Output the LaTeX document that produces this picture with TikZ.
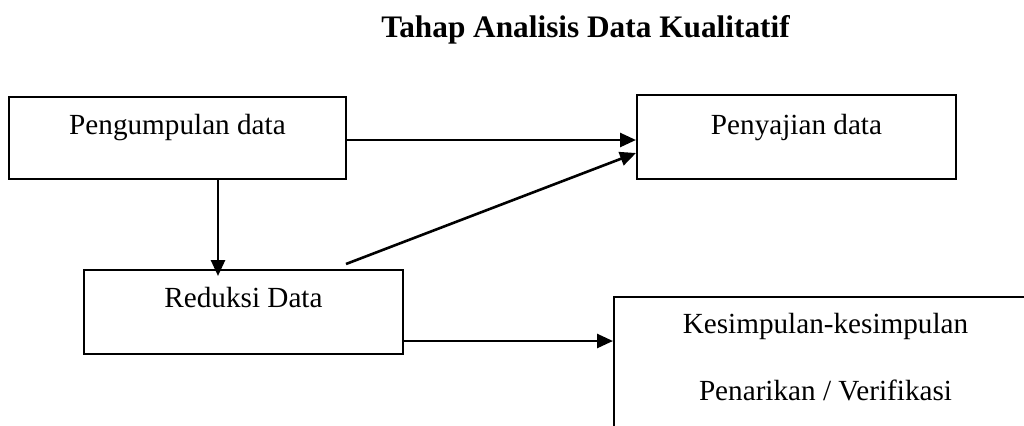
\documentclass[tikz,border=0pt]{standalone}
\usepackage{fontspec}
\setmainfont{Liberation Serif}
\usetikzlibrary{arrows.meta,calc}

\begin{document}
\begin{tikzpicture}[x=0.5pt, y=-0.5pt,
    box/.style={draw, line width=1pt, inner sep=0pt, anchor=north west, font=\fontsize{14.6}{17}\selectfont},
    arr/.style={-{Triangle[length=8pt,width=7pt]}, line width=1.3pt}]
    \useasboundingbox (0,0) rectangle (1024,425);
    \clip (0,0) rectangle (1024,425);
    \node[font=\fontsize{15.65}{19}\selectfont\bfseries, anchor=base] (title) at (585.5,37) {Tahap Analisis Data Kualitatif};
    \node[box, minimum width=168.5pt, text height=18.5pt, text depth=22.5pt] (kumpul) at (8,96) {Pengumpulan data};
    \node[box, minimum width=159.5pt, text height=19.5pt, text depth=22.5pt] (saji) at (636,94) {Penyajian data};
    \node[box, minimum width=159.5pt, text height=18.5pt, text depth=23.5pt] (reduksi) at (83,269) {Reduksi Data};
    \node[box, minimum width=211.5pt, minimum height=150pt] (kes) at (613,296) {};
    \node[font=\fontsize{14.6}{33.5}\selectfont, align=center, inner sep=0pt, anchor=north] (kestext) at ($(kes.north)+(0,17)$) {Kesimpulan-kesimpulan\\Penarikan / Verifikasi};
    \draw[arr] ($(kumpul.east)+(0,2)$) -- ($(kumpul.east -| saji.west)+(0,2)$);
    \coordinate (bend) at ($(reduksi.north east)+(-58,-5)$);
    \draw[arr] (bend) -- ($(saji.west)+(0,16)$);
    \coordinate (down) at (218,0);
    \draw[arr] (kumpul.south -| down) -- ($(reduksi.north -| down)+(0,7)$);
    \draw[arr] ($(reduksi.east)+(0,29)$) -- ($(reduksi.east -| kes.west)+(0,29)$);
\end{tikzpicture}
\end{document}
